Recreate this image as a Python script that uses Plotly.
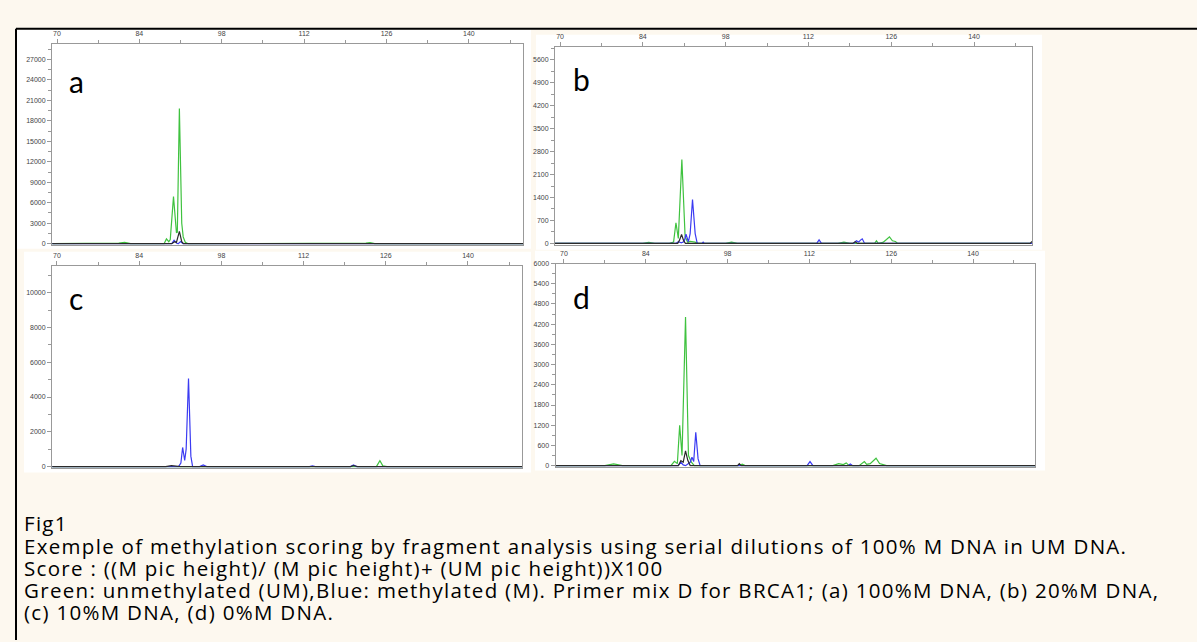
import plotly.graph_objects as go

W, H = 1197, 642

# ---------------- data ----------------
# panel a : 100% M DNA
green_a_x = [69.2, 72, 74, 76, 80.5, 81.5, 82.5, 87.5, 88.2, 88.6, 89.0, 89.25, 89.8, 90.3, 90.45, 90.8, 91.2, 91.45, 91.8, 92.3, 103, 104, 105, 119, 122.5, 123.2, 124, 149.2]
green_a_y = [0, 0, 80, 0, 80, 200, 0, 0, 0, 700, 300, 600, 6900, 1600, 1700, 19800, 3000, 1000, 200, 0, 0, 80, 0, 0, 80, 150, 0, 0]
blue_a_x = [69.2, 88.8, 89.5, 89.9, 90.3, 90.6, 91.0, 91.4, 110.4, 110.7, 111.0, 117.3, 117.6, 117.9, 149.2]
blue_a_y = [0, 0, 0, 500, 100, 0, 300, 0, 0, 60, 0, 0, 60, 0, 0]
black_a_x = [69.2, 89.5, 90.0, 90.3, 90.8, 91.2, 91.5, 149.2]
black_a_y = [0, 0, 300, 200, 1800, 300, 0, 0]

# panel b : 20% M DNA
green_b_x = [69.15, 84, 85, 86, 88.5, 89.2, 89.6, 90.0, 90.6, 91.15, 91.6, 92.0, 92.8, 93.4, 98, 99, 100, 111, 117, 118, 119, 123.2, 123.5, 123.8, 124.6, 125.2, 125.7, 126.2, 126.7, 127.1, 149.8]
green_b_y = [0, 0, 30, 0, 0, 40, 630, 150, 2560, 200, 30, 60, 40, 0, 0, 40, 0, 0, 0, 40, 0, 0, 80, 0, 30, 120, 200, 80, 60, 0, 0]
blue_b_x = [69.15, 89.0, 89.6, 90.0, 90.5, 91.0, 91.3, 91.7, 92.0, 92.4, 92.85, 93.2, 94.0, 94.2, 94.4, 113.4, 113.8, 114.2, 119.7, 120.1, 120.5, 120.8, 121.1, 121.5, 149.8]
blue_b_y = [0, 0, 0, 50, 20, 60, 280, 50, 300, 1340, 300, 0, 0, 40, 0, 0, 110, 0, 0, 80, 40, 100, 140, 0, 0]
black_b_x = [69.15, 89.9, 90.2, 90.55, 90.9, 91.2, 119.5, 119.9, 120.3, 149.5, 149.8]
black_b_y = [0, 0, 100, 270, 80, 0, 0, 50, 0, 0, 60]

# panel c : 10% M DNA
blue_c_x = [69.2, 90.7, 91.1, 91.4, 91.75, 92.0, 92.4, 92.8, 93.1, 94.3, 94.9, 95.5, 113, 113.5, 114, 120, 120.5, 121.0, 149.2]
blue_c_y = [0, 0, 200, 1100, 350, 1000, 5060, 600, 0, 0, 100, 0, 0, 40, 0, 0, 90, 0, 0]
green_c_x = [69.2, 82, 84, 86, 124.4, 125.0, 125.5, 126.2, 149.2]
green_c_y = [0, 0, 40, 0, 0, 340, 40, 0, 0]
black_c_x = [69.2, 88.5, 89.5, 90.5, 91.0, 120.0, 120.5, 121.2, 149.2]
black_c_y = [0, 0, 50, 40, 0, 0, 60, 0, 0]

# panel d : 0% M DNA
green_d_x = [68.55, 77, 78.5, 80, 88.3, 88.9, 89.4, 89.8, 90.2, 90.8, 91.3, 91.8, 92.3, 100, 100.5, 101, 116, 117, 117.8, 118.3, 118.8, 120.5, 121.4, 121.8, 122.4, 123.4, 124.0, 124.6, 125.2, 150.6]
green_d_y = [0, 0, 50, 0, 0, 130, 60, 1200, 300, 4415, 300, 100, 0, 0, 40, 0, 0, 60, 30, 80, 0, 0, 120, 40, 60, 220, 60, 40, 0, 0]
blue_d_x = [68.55, 89.5, 90.0, 90.4, 90.8, 91.2, 91.6, 91.9, 92.2, 92.55, 92.95, 93.3, 94.5, 111.6, 112.1, 112.6, 118.6, 119.0, 119.4, 150.6]
blue_d_y = [0, 0, 100, 20, 0, 60, 100, 250, 120, 990, 200, 0, 0, 0, 120, 0, 0, 50, 0, 0]
black_d_x = [68.55, 89.6, 90.0, 90.4, 90.8, 91.2, 91.6, 99.7, 100.0, 100.3, 150.6]
black_d_y = [0, 0, 150, 100, 440, 150, 0, 0, 60, 0, 0]

panel_letters = ["a", "b", "c", "d"]
caption_lines = [
    "Fig1",
    "Exemple of methylation scoring by fragment analysis using serial dilutions of 100% M DNA in UM DNA.",
    "Score : ((M pic height)/ (M pic height)+ (UM pic height))X100",
    "Green: unmethylated (UM),Blue: methylated (M). Primer mix D for BRCA1; (a) 100%M DNA, (b) 20%M DNA,",
    "(c) 10%M DNA, (d) 0%M DNA.",
]

# ---------------- layout helpers ----------------
GREEN = "#3fc23f"
BLUE = "#3b3bf2"
BLACK = "#2a2a2a"

def px(x):
    return x / W

def py(y):
    return 1 - y / H

panels = [
    dict(box=(52, 523, 40, 243), xr=[69.15, 149.2], yr=[-150, 29300], dt=3000,
         series=[(green_a_x, green_a_y, GREEN), (blue_a_x, blue_a_y, BLUE), (black_a_x, black_a_y, BLACK)],
         white=(17, 531, 26, 247), letter=(76, 78)),
    dict(box=(555, 1032, 43, 243), xr=[69.15, 149.8], yr=[-40, 6000], dt=700,
         series=[(green_b_x, green_b_y, GREEN), (blue_b_x, blue_b_y, BLUE), (black_b_x, black_b_y, BLACK)],
         white=(536, 1042, 31, 248), letter=(581, 76)),
    dict(box=(52, 522, 264, 468), xr=[69.15, 149.2], yr=[-60, 11560], dt=2000,
         series=[(green_c_x, green_c_y, GREEN), (blue_c_x, blue_c_y, BLUE), (black_c_x, black_c_y, BLACK)],
         white=(24, 531, 250, 473), letter=(76, 297)),
    dict(box=(555.5, 1035, 262, 467), xr=[68.55, 150.6], yr=[-30, 6000], dt=600,
         series=[(green_d_x, green_d_y, GREEN), (blue_d_x, blue_d_y, BLUE), (black_d_x, black_d_y, BLACK)],
         white=(535, 1045, 249, 471), letter=(581, 296)),
]

fig = go.Figure()
shapes = []
annotations = []
tickfont = dict(family="Liberation Sans", size=7, color="#444")

for i, p in enumerate(panels):
    n = "" if i == 0 else str(i + 1)
    x0, x1, yt, yb = p["box"]
    for xs, ys, col in p["series"]:
        fig.add_trace(go.Scatter(x=xs, y=ys, mode="lines", xaxis="x" + n, yaxis="y" + n,
                                 line=dict(color=col, width=1.2), showlegend=False,
                                 hoverinfo="skip"))
    fig.layout["xaxis" + n] = dict(
        domain=[px(x0), px(x1)], anchor="y" + n, side="top", range=p["xr"],
        tickmode="linear", tick0=70, dtick=14, ticks="outside", ticklen=4,
        tickcolor="#999", tickfont=tickfont, showgrid=False, zeroline=False,
        showline=True, linecolor="#999", linewidth=1, mirror=True,
        minor=dict(ticks="outside", tick0=70, dtick=7, ticklen=3, tickcolor="#999"),
        fixedrange=True,
    )
    fig.layout["yaxis" + n] = dict(
        domain=[py(yb), py(yt)], anchor="x" + n, range=p["yr"],
        tickmode="linear", tick0=0, dtick=p["dt"], tickformat="d", ticks="outside", ticklen=4,
        tickcolor="#999", tickfont=tickfont, showgrid=False, zeroline=False,
        showline=True, linecolor="#999", linewidth=1, mirror=True,
        minor=dict(ticks="outside", tick0=0, dtick=p["dt"] / 2, ticklen=3, tickcolor="#999"),
        fixedrange=True,
    )
    wx0, wx1, wy0, wy1 = p["white"]
    shapes.append(dict(type="rect", xref="paper", yref="paper", layer="below",
                       x0=px(wx0), x1=px(wx1), y0=py(wy1), y1=py(wy0),
                       fillcolor="white", line=dict(width=0)))
    lx, ly = p["letter"]
    annotations.append(dict(text=panel_letters[i], xref="paper", yref="paper",
                            x=px(lx), y=py(ly), xanchor="center", yanchor="middle",
                            showarrow=False, font=dict(family="Lato", size=30, color="black")))

# outer frame lines
shapes.append(dict(type="line", xref="paper", yref="paper", x0=px(16), x1=1.0,
                   y0=py(25), y1=py(25), line=dict(color="black", width=2)))
shapes.append(dict(type="line", xref="paper", yref="paper", x0=px(16), x1=px(16),
                   y0=py(25), y1=0.0, line=dict(color="black", width=2)))

caption_y = [524, 547, 569, 592, 614]
for txt, yy in zip(caption_lines, caption_y):
    annotations.append(dict(text='<span style="letter-spacing:1.3px">' + txt + '</span>',
                            xref="paper", yref="paper", x=px(22), y=py(yy),
                            xanchor="left", yanchor="middle", showarrow=False,
                            font=dict(family="Open Sans", size=20.5, color="black")))

fig.update_layout(
    width=W, height=H, margin=dict(l=0, r=0, t=0, b=0),
    paper_bgcolor="#fdf8ef", plot_bgcolor="white",
    shapes=shapes, annotations=annotations,
)

fig.write_html(
    "out.html",
    config={"displayModeBar": False},
    post_script="document.body.style.margin='0';document.body.style.overflow='hidden';",
)
